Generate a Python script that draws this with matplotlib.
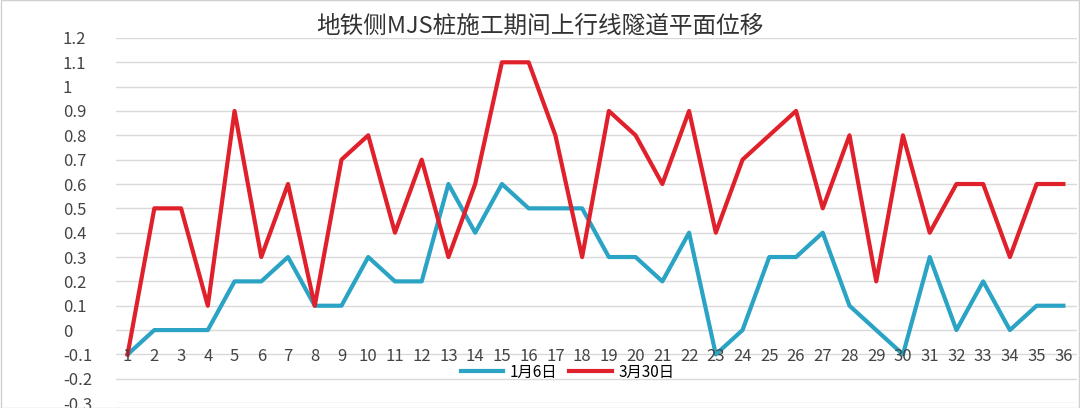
import matplotlib
matplotlib.use("Agg")
import matplotlib.pyplot as plt
from matplotlib import font_manager
import numpy as np

names = {f.name for f in font_manager.fontManager.ttflist}
cjk = [n for n in ['Noto Sans CJK SC', 'Noto Sans CJK JP', 'Noto Sans CJK TC', 'Noto Sans CJK KR'] if n in names]
plt.rcParams['font.family'] = 'sans-serif'
plt.rcParams['font.sans-serif'] = cjk + ['DejaVu Sans']

categories = list(range(1, 37))
jan6 = [-0.1,0,0,0,0.2,0.2,0.3,0.1,0.1,0.3,0.2,0.2,0.6,0.4,0.6,0.5,0.5,0.5,0.3,0.3,0.2,0.4,-0.1,0,0.3,0.3,0.4,0.1,0,-0.1,0.3,0,0.2,0,0.1,0.1]
mar30 = [-0.1,0.5,0.5,0.1,0.9,0.3,0.6,0.1,0.7,0.8,0.4,0.7,0.3,0.6,1.1,1.1,0.8,0.3,0.9,0.8,0.6,0.9,0.4,0.7,0.8,0.9,0.5,0.8,0.2,0.8,0.4,0.6,0.6,0.3,0.6,0.6]
yticks = [round(-0.3 + 0.1*i, 1) for i in range(16)]

fig = plt.figure(figsize=(10.8, 4.08), dpi=100)
ax = fig.add_axes([0.107, 0.012, 0.89, 0.895])
ax.plot(categories, jan6, color='#2aa3c4', lw=3, label='1月6日')
ax.plot(categories, mar30, color='#e0202b', lw=3, label='3月30日')
ax.set_ylim(-0.3, 1.2)
ax.set_xlim(0.55, 36.5)
ax.set_yticks(yticks)
ax.set_yticklabels([('%g' % v) for v in yticks], fontsize=12, color='#444444')
ax.set_xticks([])
for c in categories:
    ax.text(c, -0.11, str(c), ha='center', va='center', fontsize=12, color='#444444')
ax.grid(axis='y', color='#d9d9d9', lw=1)
ax.set_axisbelow(True)
for s in ax.spines.values():
    s.set_visible(False)
ax.tick_params(axis='y', length=0, pad=38)
for lab in ax.get_yticklabels():
    lab.set_horizontalalignment('left')
ax.legend(loc='center', bbox_to_anchor=(0.47, 0.085), ncol=2, frameon=False, fontsize=11,
          handlelength=2.8, columnspacing=0.8, handletextpad=0.4)
fig.text(0.5, 0.92, '地铁侧MJS桩施工期间上行线隧道平面位移', ha='center', fontsize=17, color='#333333')
fig.add_artist(plt.Rectangle((0.001, 0.001), 0.998, 0.998, transform=fig.transFigure, fill=False, ec='#d0d0d0', lw=1))
fig.savefig('out.png', dpi=100)
